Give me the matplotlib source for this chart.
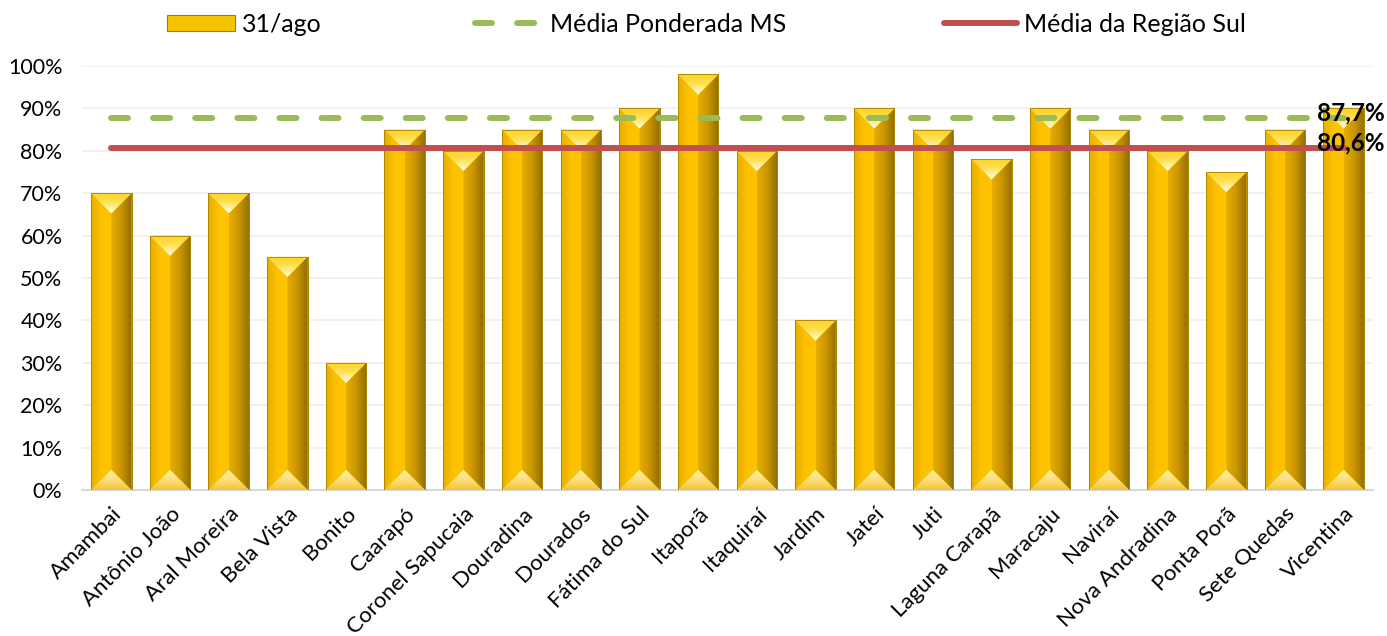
"""Bar chart of municipal percentages at 31/ago with weighted MS and regional averages."""

import matplotlib
matplotlib.use("Agg")
import matplotlib.pyplot as plt
import numpy as np
from matplotlib.colors import LinearSegmentedColormap
from matplotlib.lines import Line2D
from matplotlib.patches import Polygon, Rectangle
from matplotlib.ticker import FuncFormatter, MultipleLocator

plt.rcParams["font.family"] = ["Lato", "DejaVu Sans"]

municipios = [
    "Amambai", "Antônio João", "Aral Moreira", "Bela Vista", "Bonito",
    "Caarapó", "Coronel Sapucaia", "Douradina", "Dourados", "Fátima do Sul",
    "Itaporã", "Itaquiraí", "Jardim", "Jateí", "Juti", "Laguna Carapã",
    "Maracaju", "Naviraí", "Nova Andradina", "Ponta Porã", "Sete Quedas",
    "Vicentina",
]
valores = [70, 60, 70, 55, 30, 85, 80, 85, 85, 90, 98, 80, 40, 90, 85, 78,
           90, 85, 80, 75, 85, 90]

media_ms = 87.7
media_sul = 80.6

serie_label = "31/ago"
ms_label = "Média Ponderada MS"
sul_label = "Média da Região Sul"

GOLD = "#FFC000"
GREEN = "#9BBB59"
RED = "#C0504D"
DASHES = (2.85, 4.2)

cm_right = LinearSegmentedColormap.from_list("right", ["#E9AE00", "#C99400", "#8E6C00"])
cm_left = LinearSegmentedColormap.from_list("left", ["#E6AE00", "#FFC200", "#FFC400"])
cm_top = LinearSegmentedColormap.from_list("top", ["#FFFFF2", "#FFE25A", "#FFD21E"])
cm_bot = LinearSegmentedColormap.from_list("bot", ["#F2C43A", "#FFE07A", "#FFEFB0"])

fig = plt.figure(figsize=(13.87, 6.36), dpi=100)
ax = fig.add_axes([0.0591, 0.2296, 0.9308, 0.6667])

x = np.arange(len(municipios))
bars = ax.bar(x, valores, width=0.69, color=GOLD, edgecolor="#A88400",
              linewidth=0.6, zorder=2)

ax.set_xlim(-0.5, len(municipios) - 0.5)
ax.set_ylim(0, 100)

# bevel depth in data units so the facets meet at 45 degrees on screen
pos = ax.get_position()
px_x = pos.width * fig.get_figwidth() * fig.dpi / (len(municipios))
px_y = pos.height * fig.get_figheight() * fig.dpi / 100.0


def shaded(poly_pts, cmap, extent, horizontal):
    poly = Polygon(poly_pts, closed=True, transform=ax.transData)
    grad = np.linspace(0, 1, 128)
    grad = grad.reshape(1, -1) if horizontal else grad.reshape(-1, 1)
    im = ax.imshow(grad, cmap=cmap, extent=extent, aspect="auto",
                   origin="lower", interpolation="bicubic", zorder=3)
    im.set_clip_path(poly)


for b in bars:
    x0 = b.get_x()
    w = b.get_width()
    h = b.get_height()
    x1 = x0 + w
    xc = x0 + w / 2
    d = (w / 2) * px_x / px_y
    # left face, right face, top and bottom facets
    shaded([(x0, 0), (xc, d), (xc, h - d), (x0, h)], cm_left,
           [x0, xc, 0, h], True)
    shaded([(xc, d), (x1, 0), (x1, h), (xc, h - d)], cm_right,
           [xc, x1, 0, h], True)
    shaded([(x0, h), (x1, h), (xc, h - d)], cm_top,
           [x0, x1, h - d, h], False)
    shaded([(x0, 0), (x1, 0), (xc, d)], cm_bot,
           [x0, x1, 0, d], False)
    ax.add_patch(Rectangle((x0, 0), w, h, fill=False, edgecolor="#A88400",
                           linewidth=0.6, zorder=3.5))

ax.set_xlim(-0.5, len(municipios) - 0.5)
ax.set_ylim(0, 100)

ax.plot(x, [media_ms] * len(x), color=GREEN, linewidth=4.3,
        dashes=DASHES, dash_capstyle="round", zorder=4)
ax.plot(x, [media_sul] * len(x), color=RED, linewidth=4.3,
        solid_capstyle="round", zorder=4)

for val in (media_ms, media_sul):
    ax.annotate(f"{val:.1f}%".replace(".", ","), xy=(x[-1], val),
                xytext=(5, 4), textcoords="offset points",
                ha="center", va="center", fontsize=17.5, fontweight="bold",
                color="black", zorder=5)

ax.yaxis.set_major_locator(MultipleLocator(10))
ax.yaxis.set_major_formatter(FuncFormatter(lambda v, _: f"{v:.0f}%"))
ax.grid(axis="y", color="#EFEFEF", linewidth=1.2, zorder=0)
ax.set_axisbelow(True)

ax.set_xticks(x)
ax.set_xticklabels(municipios, rotation=45, ha="right",
                   rotation_mode="anchor", fontsize=16)
ax.tick_params(axis="x", length=0, pad=10)
ax.tick_params(axis="y", length=0, pad=14, labelsize=15.5)

for side in ("top", "right", "left"):
    ax.spines[side].set_visible(False)
ax.spines["bottom"].set_color("#D9D9D9")
ax.spines["bottom"].set_linewidth(1.5)

# legend entries spread along the top, one legend each
W, H = 1387.0, 636.0
bar_handle = Rectangle((0, 0), 1, 1, facecolor="#F5C400", edgecolor="#A07C00",
                       linewidth=0.8)
ms_handle = Line2D([], [], color=GREEN, linewidth=4.3, dashes=DASHES,
                   dash_capstyle="round")
sul_handle = Line2D([], [], color=RED, linewidth=4.3, solid_capstyle="round")

for handle, label, left, hlen in [
    (bar_handle, serie_label, 167, 2.72),
    (ms_handle, ms_label, 475, 2.72),
    (sul_handle, sul_label, 944, 2.9),
]:
    fig.legend(handles=[handle], labels=[label], loc="center left",
               bbox_to_anchor=(left / W, 1 - 24 / H), frameon=False,
               fontsize=18, handlelength=hlen, handleheight=0.6,
               handletextpad=0.28, borderpad=0, borderaxespad=0)

fig.savefig("out.png", dpi=100)
